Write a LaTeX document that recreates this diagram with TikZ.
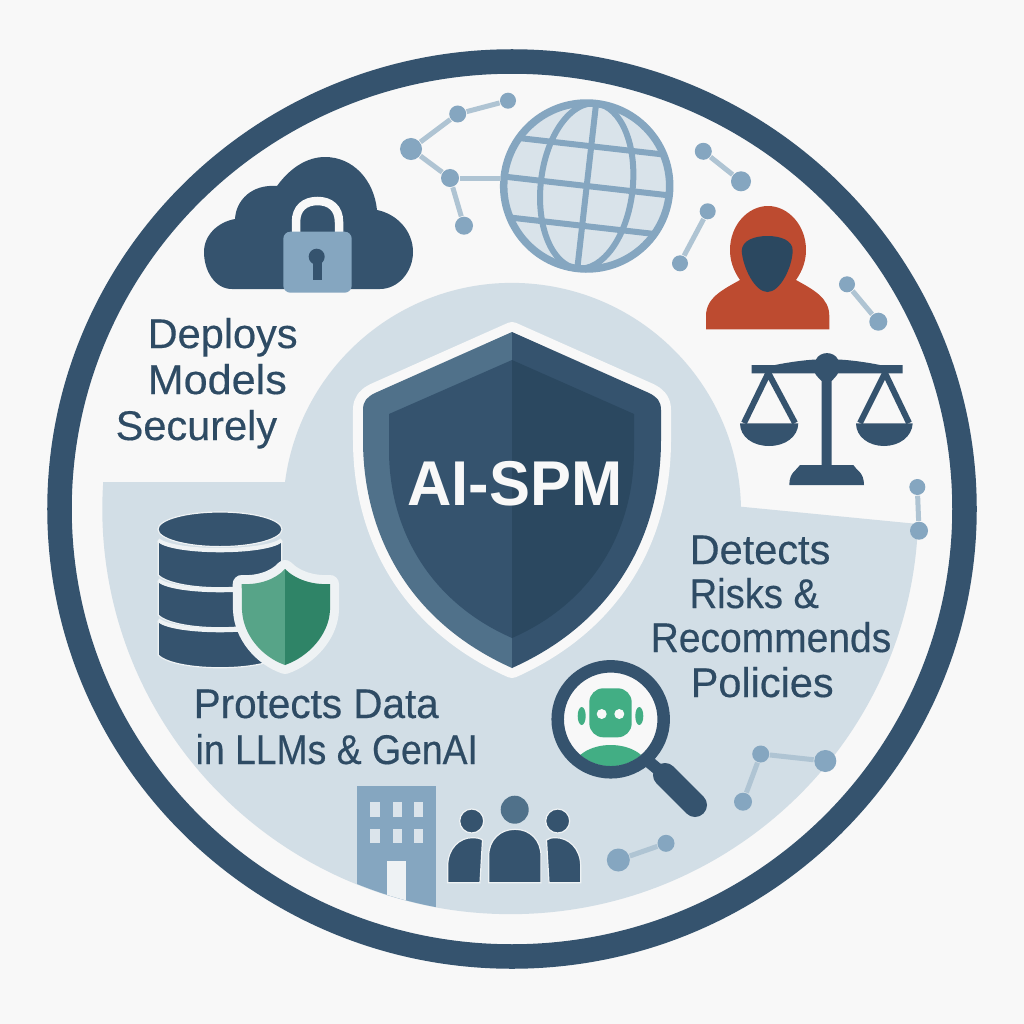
\documentclass[tikz,border=0pt]{standalone}
\usepackage{fontspec}
\setmainfont{Liberation Sans}
\newfontfamily\capfont[FakeBold=0.4]{Liberation Sans}
\definecolor{pagebg}{HTML}{F8F8F8}
\definecolor{navy}{HTML}{35536E}
\definecolor{navydeep}{HTML}{2B4860}
\definecolor{slate}{HTML}{50718A}
\definecolor{steel}{HTML}{85A6C0}
\definecolor{wire}{HTML}{AFC4D3}
\definecolor{pale}{HTML}{D2DEE6}
\definecolor{halo}{HTML}{EEF2F4}
\definecolor{hood}{HTML}{BD4B30}
\definecolor{mint}{HTML}{42AE84}
\definecolor{mintlight}{HTML}{57A488}
\definecolor{mintdark}{HTML}{2F8467}
\tikzset{
	netdot/.style={circle,fill=steel,inner sep=0pt},
	netline/.style={wire,line width=0.05cm},
	caption/.style={anchor=base west,inner sep=0pt,text=navydeep!70!navy,font=\capfont\fontsize{11.8}{13}\selectfont},
	band/.style={fill=navy,draw=halo,line width=0.012cm},
	bandtop/.style={halo,line width=0.035cm},
	folk/.style={fill=navy,draw=halo,line width=0.012cm}
}
\begin{document}
\begin{tikzpicture}[x=0.01cm,y=-0.01cm]
	\useasboundingbox (0,0) rectangle (1024,1024);
	\fill[pagebg] (0,0) rectangle (1024,1024);
	% pale sector and outer ring
	\fill[pale] (103,482) -- (285,482) arc[start angle=187.5,end angle=358.7,radius=229] -- (918,524)
		arc[start angle=2.1,end angle=183.8,x radius=408,y radius=405] -- cycle;
	\draw[navy,line width=0.245cm] (512,509) ellipse[x radius=452.5,y radius=447.5];
	% cloud with lock
	\fill[navy] (232,289) .. controls (215,289) and (204,271) .. (204,252) .. controls (204,235) and (218,222) .. (235,219)
		.. controls (236,200) and (252,184) .. (277,186) .. controls (290,168) and (307,157) .. (325,157)
		.. controls (353,157) and (374,180) .. (377,210) .. controls (397,214) and (413,231) .. (413,252)
		.. controls (413,272) and (398,289) .. (380,289) -- cycle;
	\draw[pagebg,line width=0.085cm] (296,233) -- (296,222) .. controls (296,208) and (305,201) .. (317.5,201) .. controls (330,201) and (339,208) .. (339,222) -- (339,233);
	\fill[steel,rounded corners=2pt] (283.3,231.7) rectangle (351.7,292.7);
	\fill[navy] (316.7,256.7) circle[radius=8];
	\fill[navy] (312.7,258) rectangle (322,280);
	% globe
	\begin{scope}[shift={(586.7,186)},rotate=-6.5]
		\fill[pale!85!white] (0,0) circle[radius=83];
		\draw[steel,line width=0.06cm] (0,-83) -- (0,83);
		\draw[steel,line width=0.06cm] (0,0) ellipse[x radius=46,y radius=83];
		\draw[steel,line width=0.06cm] (-83,0) -- (83,0);
		\draw[steel,line width=0.06cm] (-72.7,-40) -- (72.7,-40);
		\draw[steel,line width=0.06cm] (-72.7,40) -- (72.7,40);
		\draw[steel,line width=0.075cm] (0,0) circle[radius=83];
	\end{scope}
	\coordinate (globeW) at (501,178);
	% network bits
	\node[netdot,minimum size=0.16cm] (t1) at (508,100.7) {};
	\node[netdot,minimum size=0.17cm] (t2) at (457.7,114) {};
	\node[netdot,minimum size=0.22cm] (t3) at (411,149) {};
	\node[netdot,minimum size=0.18cm] (t4) at (450,178) {};
	\node[netdot,minimum size=0.18cm] (t5) at (464,225.7) {};
	\draw[netline] (t1) -- (t2);
	\draw[netline] (t2) -- (t3);
	\draw[netline] (t3) -- (t4);
	\draw[netline] (t4) -- (t5);
	\draw[netline] (t4) -- (globeW);
	\node[netdot,minimum size=0.17cm] (a1) at (703.3,151.3) {};
	\node[netdot,minimum size=0.2cm] (a2) at (741,181.3) {};
	\draw[netline] (a1) -- (a2);
	\node[netdot,minimum size=0.16cm] (b1) at (707.7,211.3) {};
	\node[netdot,minimum size=0.16cm] (b2) at (680,263.3) {};
	\draw[netline] (b1) -- (b2);
	\node[netdot,minimum size=0.16cm] (c1) at (847,284.3) {};
	\node[netdot,minimum size=0.18cm] (c2) at (878.3,321.7) {};
	\draw[netline] (c1) -- (c2);
	\node[netdot,minimum size=0.16cm] (d1) at (917.3,487) {};
	\node[netdot,minimum size=0.18cm] (d2) at (919,530.7) {};
	\draw[netline] (d1) -- (d2);
	\node[netdot,minimum size=0.17cm] (e1) at (760.7,754) {};
	\node[netdot,minimum size=0.22cm] (e2) at (825.3,761) {};
	\node[netdot,minimum size=0.18cm] (e3) at (743,801.7) {};
	\draw[netline] (e1) -- (e2);
	\draw[netline] (e1) -- (e3);
	\node[netdot,minimum size=0.23cm] (f1) at (618.3,860) {};
	\node[netdot,minimum size=0.17cm] (f2) at (666,843.3) {};
	\draw[netline] (f1) -- (f2);
	% hooded figure
	\fill[hood] (706,329.3) -- (706,316) .. controls (706,298) and (722,290) .. (740,280) .. controls (733,270) and (730,260) .. (730,250)
		.. controls (730,225) and (748,206) .. (768,206) .. controls (788,206) and (806,225) .. (806,250)
		.. controls (806,260) and (803,270) .. (796,280) .. controls (814,290) and (829.3,298) .. (829.3,316) -- (829.3,329.3) -- cycle;
	\fill[navydeep] (741.7,251) .. controls (742,240) and (755,236) .. (767.5,236) .. controls (780,236) and (793,240) .. (792.7,251)
		.. controls (792,268) and (780,292) .. (767.5,292) .. controls (755,292) and (743,268) .. (741.7,251) -- cycle;
	% balance
	\fill[navy] (751.7,365) -- (775,365) .. controls (790,362) and (805,360) .. (816,359.5) .. controls (820,351) and (834,351) .. (838,359.5)
		.. controls (850,360) and (865,362) .. (880,365) -- (902.7,365) -- (902.7,373.3) -- (838,373.3) .. controls (836,377) and (833,379) .. (831.7,381)
		-- (831.7,465) -- (853.3,465) .. controls (856,470) and (864,472) .. (864,485) -- (789.3,485) .. controls (789.3,472) and (797,470) .. (800,465)
		-- (821.7,465) -- (821.7,381) .. controls (820,379) and (817,377) .. (815,373.3) -- (751.7,373.3) -- cycle;
	\draw[navy,line width=0.06cm] (744,423) -- (768.3,373) -- (795,423);
	\draw[navy,line width=0.06cm] (860,423) -- (885,373) -- (909,423);
	\fill[navy] (740,423.3) -- (798.3,423.3) .. controls (798,437) and (785,446) .. (769,446) .. controls (753,446) and (740,437) .. (740,423.3) -- cycle;
	\fill[navy] (856,423.3) -- (912.7,423.3) .. controls (912,437) and (899,446) .. (884,446) .. controls (869,446) and (856,437) .. (856,423.3) -- cycle;
	% main shield
	\draw[pagebg,line width=0.2cm,line join=round] (512,332) -- (375,393) .. controls (367,397) and (363,401) .. (363,410) -- (363,440)
		.. controls (363,530) and (405,620) .. (512,668) .. controls (619,620) and (661,530) .. (661,440) -- (661,410)
		.. controls (661,401) and (657,397) .. (649,393) -- cycle;
	\fill[slate] (512,332) -- (375,393) .. controls (367,397) and (363,401) .. (363,410) -- (363,440) .. controls (363,530) and (405,620) .. (512,668) -- cycle;
	\fill[navy] (512,332) -- (649,393) .. controls (657,397) and (661,401) .. (661,410) -- (661,440) .. controls (661,530) and (619,620) .. (512,668) -- cycle;
	\fill[navy] (512,360) -- (389,414) -- (389,450) .. controls (389,530) and (430,602) .. (512,638) -- cycle;
	\fill[navydeep] (512,360) -- (634,414) -- (634,450) .. controls (634,530) and (594,602) .. (512,638) -- cycle;
	\node[inner sep=0pt,text=pagebg,font=\fontsize{18}{20}\bfseries\selectfont,xscale=0.97] (title) at (515,483.5) {AI-SPM};
	% database with small shield
	\fill[band] (158.3,621.7) .. controls (175,635) and (265,635) .. (281.7,621.7) -- (281.7,655) .. controls (265,672) and (175,672) .. (158.3,655) -- cycle;
	\draw[bandtop] (158.3,620) .. controls (175,633) and (265,633) .. (281.7,620);
	\fill[band] (158.3,581.7) .. controls (175,595) and (265,595) .. (281.7,581.7) -- (281.7,615) .. controls (265,632) and (175,632) .. (158.3,615) -- cycle;
	\draw[bandtop] (158.3,580) .. controls (175,593) and (265,593) .. (281.7,580);
	\fill[band] (158.3,541.7) .. controls (175,555) and (265,555) .. (281.7,541.7) -- (281.7,575) .. controls (265,592) and (175,592) .. (158.3,575) -- cycle;
	\draw[bandtop] (158.3,540) .. controls (175,553) and (265,553) .. (281.7,540);
	\draw[band] (220,529.3) ellipse[x radius=62,y radius=17.3];
	\draw[halo,line width=0.18cm,line join=round] (285,569) .. controls (275,580) and (258,585) .. (241.7,584) -- (242,610) .. controls (243,635) and (262,657) .. (285,665)
		.. controls (308,657) and (329,635) .. (330,610) -- (330,584) .. controls (313,585) and (296,580) .. (285,569) -- cycle;
	\fill[mintlight] (285,569) .. controls (275,580) and (258,585) .. (241.7,584) -- (242,610) .. controls (243,635) and (262,657) .. (285,665) -- cycle;
	\fill[mintdark] (285,569) .. controls (296,580) and (313,585) .. (330,584) -- (330,610) .. controls (329,635) and (308,657) .. (285,665) -- cycle;
	% magnifier with robot
	\fill[pagebg] (610.7,719.3) circle[radius=50];
	\begin{scope}
		\clip (610.7,719.3) circle[radius=47];
		\fill[mint] (610.7,770) ellipse[x radius=38,y radius=25];
	\end{scope}
	\fill[mint,rounded corners=0.14cm] (589.3,688.3) rectangle (631.7,737.3);
	\fill[mint] (581.7,716) ellipse[x radius=4,y radius=9];
	\fill[mint] (639.3,716) ellipse[x radius=4,y radius=9];
	\fill[pagebg] (601.7,714) circle[radius=5];
	\fill[pagebg] (619.3,714) circle[radius=5];
	\draw[navy,line width=0.125cm] (610.7,719.3) circle[radius=53];
	\draw[navy,line width=0.12cm] (646.7,760) -- (666,776);
	\draw[navy,line width=0.24cm,line cap=round] (665,775) -- (695,805);
	% building, cut off by the sector edge
	\begin{scope}
		\clip (511.5,509) ellipse[x radius=408,y radius=405];
		\fill[steel] (357.3,785.7) rectangle (435.7,930);
		\fill[halo] (387.3,861.3) rectangle (406,930);
	\end{scope}
	\fill[pale!80!white] (370,801.7) rectangle (380,817.3);
	\fill[pale!80!white] (392.7,801.7) rectangle (401.7,817.3);
	\fill[pale!80!white] (414,801.7) rectangle (423.3,817.3);
	\fill[pale!80!white] (370,828.7) rectangle (380,843.3);
	\fill[pale!80!white] (392.7,828.7) rectangle (401.7,843.3);
	\fill[pale!80!white] (414,828.7) rectangle (423.3,843.3);
	% people
	\fill[slate] (514.7,809.7) circle[radius=14];
	\fill[folk] (471.7,821) circle[radius=12];
	\fill[folk] (557.7,821) circle[radius=12];
	\fill[folk] (447.7,882.7) -- (447.7,866) .. controls (447.7,848) and (460,837.7) .. (472,837.7) .. controls (476,837.7) and (480,838) .. (482.5,840) -- (480,882.7) -- cycle;
	\fill[folk] (488.7,882.7) -- (488.7,856) .. controls (488.7,840) and (500,829.3) .. (515,829.3) .. controls (530,829.3) and (541,840) .. (541,856) -- (541,882.7) -- cycle;
	\fill[folk] (580.7,882.7) -- (580.7,866) .. controls (580.7,848) and (568,837.7) .. (556,837.7) .. controls (552,837.7) and (549,838) .. (546.5,840) -- (549,882.7) -- cycle;
	% captions
	\node[caption] (dep1) at (147,348) {Deploys};
	\node[caption,xscale=1.04] (dep2) at (147,394) {Models};
	\node[caption] (dep3) at (115,440) {Securely};
	\node[caption] (det1) at (689,564) {Detects};
	\node[caption,xscale=0.92] (det2) at (689,608) {Risks \&};
	\node[caption,xscale=0.94] (det3) at (650,652) {Recommends};
	\node[caption] (det4) at (690,697) {Policies};
	\node[caption,xscale=0.975] (pro1) at (193,718) {Protects Data};
	\node[caption,xscale=0.9] (pro2) at (195,764) {in LLMs \& GenAI};
\end{tikzpicture}
\end{document}
